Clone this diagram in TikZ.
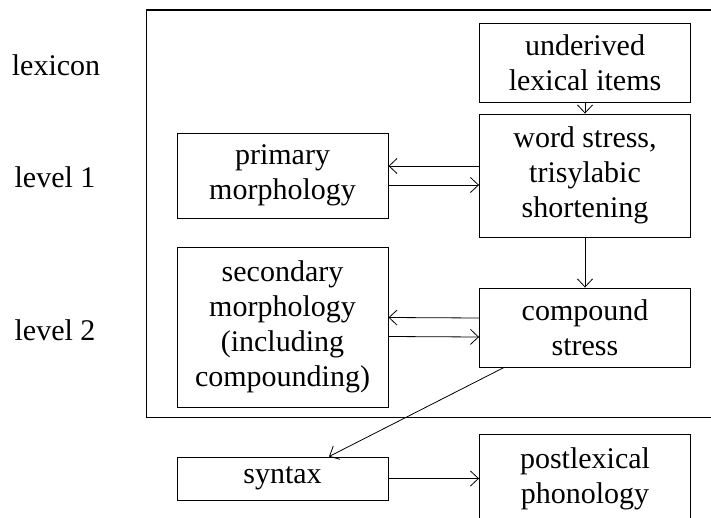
\documentclass[tikz,border=0pt]{standalone}
\usepackage{fontspec}
\setmainfont{Liberation Serif}
\usetikzlibrary{arrows.meta}
\begin{document}
\begin{tikzpicture}[x=1pt,y=-1pt,
  font=\fontsize{30}{35}\selectfont,
  box/.style={draw, line width=0.9pt, align=center, inner sep=0pt, minimum width=211pt},
  flow/.style={line width=0.8pt, -{Straight Barb[length=8pt,width=15pt]}}]
\useasboundingbox (0,0) rectangle (711,518);
% lexicon frame, runs off the right edge
\draw[line width=1.1pt] (146.7,10) rectangle (716,417.5);
\node (lex) at (56,65) {lexicon};
\node (lvA) at (55,177) {level 1};
\node (lvB) at (55,330) {level 2};
\node[box, minimum height=79pt] (und) at (585,62.5) {underived\\lexical items};
\node[box, minimum height=123pt] (wst) at (585,175.5) {word stress,\\trisylabic\\shortening};
\node[box, minimum height=85pt] (prm) at (282.5,175.5) {primary\\morphology};
\node[box, minimum height=160pt] (sec) at (282.5,327) {secondary\\morphology\\(including\\compounding)};
\node[box, minimum height=79pt] (cmp) at (585,327.5) {compound\\stress};
\node[box, minimum height=43pt] (syn) at (282.5,478.5) {syntax};
\node[box, minimum height=89pt] (pst) at (585,478.5) {postlexical\\phonology};
\draw[flow] (und) -- (wst);
\draw[flow] ([yshift=9.5pt]wst.west) -- ([yshift=9.5pt]prm.east);
\draw[flow] ([yshift=-9.5pt]prm.east) -- ([yshift=-9.5pt]wst.west);
\draw[flow] (wst) -- (cmp);
\draw[flow] ([yshift=9.5pt]cmp.west) -- ([yshift=9.5pt]sec.east);
\draw[flow] ([yshift=-9.5pt]sec.east) -- ([yshift=-9.5pt]cmp.west);
\draw[flow] ([xshift=25pt]cmp.south west) -- ([xshift=46.5pt]syn.north);
\draw[flow] (syn) -- (pst);
\end{tikzpicture}
\end{document}
